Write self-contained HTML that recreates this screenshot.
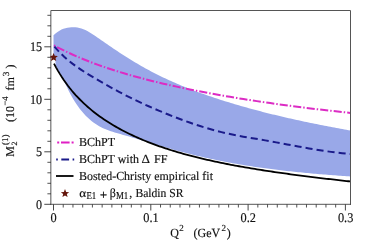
<!DOCTYPE html>
<html><head><meta charset="utf-8"><style>
html,body{margin:0;padding:0;background:#fff;}
body{width:367px;height:245px;overflow:hidden;position:relative;font-family:"Liberation Serif",serif;color:#111;}
svg{position:absolute;left:0;top:0;}
</style></head><body>
<svg width="367" height="245" viewBox="0 0 367 245">
<path d="M53.50,35.28 L55.49,33.45 L57.49,31.91 L59.48,30.63 L61.47,29.59 L63.46,28.77 L65.46,28.14 L67.45,27.68 L69.44,27.38 L71.43,27.22 L73.43,27.19 L75.42,27.31 L77.41,27.57 L79.40,27.97 L81.40,28.53 L83.39,29.24 L85.38,30.10 L87.37,31.09 L89.37,32.20 L91.36,33.40 L93.35,34.68 L95.34,36.02 L97.34,37.40 L99.33,38.80 L101.32,40.20 L103.32,41.60 L105.31,42.98 L107.30,44.36 L109.29,45.72 L111.29,47.08 L113.28,48.43 L115.27,49.76 L117.26,51.09 L119.26,52.40 L121.25,53.70 L123.24,54.98 L125.23,56.26 L127.23,57.52 L129.22,58.76 L131.21,59.99 L133.20,61.21 L135.20,62.41 L137.19,63.59 L139.18,64.75 L141.18,65.90 L143.17,67.03 L145.16,68.15 L147.15,69.24 L149.15,70.32 L151.14,71.38 L153.13,72.42 L155.12,73.45 L157.12,74.46 L159.11,75.45 L161.10,76.43 L163.09,77.39 L165.09,78.34 L167.08,79.27 L169.07,80.19 L171.06,81.09 L173.06,81.98 L175.05,82.86 L177.04,83.72 L179.03,84.57 L181.03,85.41 L183.02,86.23 L185.01,87.04 L187.01,87.84 L189.00,88.63 L190.99,89.41 L192.98,90.17 L194.98,90.93 L196.97,91.67 L198.96,92.41 L200.95,93.13 L202.95,93.84 L204.94,94.55 L206.93,95.24 L208.92,95.93 L210.92,96.61 L212.91,97.28 L214.90,97.94 L216.89,98.59 L218.89,99.24 L220.88,99.88 L222.87,100.51 L224.87,101.14 L226.86,101.76 L228.85,102.37 L230.84,102.98 L232.84,103.58 L234.83,104.18 L236.82,104.77 L238.81,105.35 L240.81,105.92 L242.80,106.50 L244.79,107.06 L246.78,107.62 L248.78,108.17 L250.77,108.72 L252.76,109.26 L254.75,109.80 L256.75,110.33 L258.74,110.85 L260.73,111.37 L262.72,111.89 L264.72,112.40 L266.71,112.90 L268.70,113.40 L270.70,113.90 L272.69,114.39 L274.68,114.87 L276.67,115.36 L278.67,115.83 L280.66,116.30 L282.65,116.77 L284.64,117.23 L286.64,117.69 L288.63,118.15 L290.62,118.60 L292.61,119.04 L294.61,119.48 L296.60,119.92 L298.59,120.35 L300.58,120.78 L302.58,121.21 L304.57,121.63 L306.56,122.05 L308.56,122.47 L310.55,122.88 L312.54,123.29 L314.53,123.69 L316.53,124.10 L318.52,124.49 L320.51,124.89 L322.50,125.28 L324.50,125.67 L326.49,126.06 L328.48,126.44 L330.47,126.83 L332.47,127.20 L334.46,127.58 L336.45,127.95 L338.44,128.33 L340.44,128.69 L342.43,129.06 L344.42,129.43 L346.41,129.79 L348.41,130.15 L350.40,130.51 L350.40,176.44 L348.47,176.31 L346.54,176.18 L344.60,176.05 L342.67,175.92 L340.74,175.78 L338.81,175.64 L336.87,175.50 L334.94,175.36 L333.01,175.21 L331.08,175.07 L329.15,174.92 L327.21,174.77 L325.28,174.61 L323.35,174.46 L321.42,174.30 L319.48,174.14 L317.55,173.97 L315.62,173.81 L313.69,173.64 L311.76,173.47 L309.82,173.29 L307.89,173.12 L305.96,172.93 L304.03,172.75 L302.09,172.56 L300.16,172.37 L298.23,172.18 L296.30,171.98 L294.37,171.78 L292.43,171.58 L290.50,171.37 L288.57,171.16 L286.64,170.95 L284.70,170.73 L282.77,170.51 L280.84,170.28 L278.91,170.05 L276.98,169.82 L275.04,169.58 L273.11,169.33 L271.18,169.09 L269.25,168.84 L267.31,168.58 L265.38,168.32 L263.45,168.06 L261.52,167.79 L259.59,167.51 L257.65,167.23 L255.72,166.95 L253.79,166.66 L251.86,166.37 L249.92,166.07 L247.99,165.77 L246.06,165.46 L244.13,165.15 L242.20,164.83 L240.26,164.50 L238.33,164.17 L236.40,163.84 L234.47,163.50 L232.53,163.15 L230.60,162.80 L228.67,162.44 L226.74,162.08 L224.81,161.71 L222.87,161.33 L220.94,160.95 L219.01,160.56 L217.08,160.17 L215.14,159.77 L213.21,159.36 L211.28,158.95 L209.35,158.53 L207.42,158.10 L205.48,157.67 L203.55,157.23 L201.62,156.79 L199.69,156.34 L197.76,155.88 L195.82,155.41 L193.89,154.94 L191.96,154.47 L190.03,153.98 L188.09,153.50 L186.16,153.00 L184.23,152.50 L182.30,152.00 L180.37,151.49 L178.43,150.97 L176.50,150.45 L174.57,149.93 L172.64,149.40 L170.70,148.86 L168.77,148.32 L166.84,147.78 L164.91,147.23 L162.98,146.68 L161.04,146.12 L159.11,145.56 L157.18,145.00 L155.25,144.43 L153.31,143.86 L151.38,143.28 L149.45,142.70 L147.52,142.12 L145.59,141.53 L143.65,140.95 L141.72,140.36 L139.79,139.78 L137.86,139.19 L135.92,138.61 L133.99,138.03 L132.06,137.45 L130.13,136.87 L128.20,136.30 L126.26,135.74 L124.33,135.18 L122.40,134.63 L120.47,134.08 L118.53,133.54 L116.60,132.99 L114.67,132.42 L112.74,131.83 L110.81,131.20 L108.87,130.53 L106.94,129.81 L105.01,129.02 L103.08,128.16 L101.14,127.22 L99.21,126.20 L97.28,125.07 L95.35,123.83 L93.42,122.47 L91.48,120.99 L89.55,119.37 L87.62,117.61 L85.69,115.69 L83.75,113.61 L81.82,111.36 L79.89,108.92 L77.96,106.29 L76.03,103.46 L74.09,100.44 L72.16,97.21 L70.23,93.73 L68.30,89.91 L66.36,85.69 L64.43,81.96 L62.50,79.06 L62.00,77.64 L61.43,76.76 L60.86,75.87 L60.29,74.96 L59.71,74.04 L59.14,73.10 L58.57,72.15 L58.00,71.18 L57.00,68.60 L55.70,65.30 L55.30,59.50 L53.50,56.00 Z" fill="#99a8e8"/>
<g style="filter:blur(0.4px)"><path d="M53.92,45.40 L54.56,45.74 L55.20,46.08 M57.00,47.03 L60.62,48.89 L64.24,50.68 M66.04,51.55 L66.69,51.86 L67.35,52.17 M69.20,53.03 L72.89,54.72 L76.59,56.34 M78.43,57.13 L79.10,57.42 L79.76,57.70 M81.65,58.48 L85.41,60.01 L89.17,61.49 M91.03,62.21 L91.71,62.47 L92.39,62.73 M94.30,63.44 L98.11,64.84 L101.92,66.19 M103.81,66.84 L104.49,67.08 L105.18,67.31 M107.11,67.97 L110.96,69.24 L114.81,70.48 M116.72,71.08 L117.41,71.30 L118.10,71.51 M120.05,72.11 L123.93,73.29 L127.82,74.43 M129.74,74.98 L130.44,75.18 L131.13,75.38 M133.10,75.93 L137.00,77.01 L140.91,78.06 M142.84,78.58 L143.54,78.76 L144.25,78.94 M146.22,79.46 L150.15,80.46 L154.08,81.43 M156.02,81.91 L156.72,82.08 L157.43,82.25 M159.41,82.73 L163.36,83.66 L167.30,84.57 M169.25,85.01 L169.96,85.17 L170.66,85.33 M172.65,85.77 L176.61,86.64 L180.57,87.49 M182.53,87.91 L183.24,88.06 L183.95,88.21 M185.94,88.62 L189.91,89.43 L193.88,90.23 M195.84,90.62 L196.55,90.76 L197.27,90.90 M199.27,91.29 L203.25,92.06 L207.23,92.81 M209.19,93.17 L209.90,93.30 L210.62,93.43 M212.62,93.80 L216.61,94.52 L220.60,95.23 M222.57,95.57 L223.28,95.70 L224.00,95.82 M226.01,96.17 L230.00,96.85 L233.99,97.52 M235.97,97.84 L236.68,97.96 L237.40,98.08 M239.41,98.40 L243.41,99.05 L247.41,99.68 M249.39,99.98 L250.10,100.10 L250.82,100.21 M252.84,100.52 L256.84,101.12 L260.85,101.72 M262.82,102.01 L263.54,102.12 L264.26,102.22 M266.28,102.52 L270.29,103.09 L274.30,103.66 M276.28,103.94 L277.00,104.04 L277.71,104.14 M279.73,104.42 L283.75,104.96 L287.76,105.50 M289.74,105.76 L290.46,105.86 L291.18,105.95 M293.20,106.22 L297.22,106.74 L301.24,107.25 M303.22,107.50 L303.94,107.59 L304.66,107.68 M306.69,107.93 L310.71,108.42 L314.73,108.91 M316.71,109.15 L317.43,109.23 L318.15,109.32 M320.18,109.56 L324.20,110.03 L328.22,110.49 M330.21,110.71 L330.93,110.80 L331.65,110.88 M333.68,111.10 L337.71,111.55 L341.73,111.99 M343.72,112.21 L344.44,112.28 L345.16,112.36 M347.19,112.58 L348.80,112.75 L350.40,112.92" fill="none" stroke="#dc2cc4" stroke-width="2.0" />
<path d="M54.41,46.54 L56.67,49.13 L58.93,51.58 M61.67,54.35 L64.18,56.73 L66.69,58.97 M69.70,61.49 L72.43,63.63 L75.16,65.66 M78.39,67.93 L81.28,69.87 L84.16,71.74 M87.52,73.85 L90.49,75.67 L93.45,77.45 M96.88,79.46 L99.89,81.20 L102.90,82.93 M106.37,84.89 L109.40,86.59 L112.44,88.27 M115.94,90.18 L119.02,91.83 L122.09,93.45 M125.64,95.29 L128.75,96.87 L131.87,98.41 M135.47,100.16 L138.63,101.66 L141.79,103.13 M145.44,104.79 L148.64,106.22 L151.84,107.63 M155.52,109.22 L158.74,110.60 L161.97,111.95 M165.69,113.48 L168.94,114.79 L172.19,116.09 M175.94,117.54 L179.23,118.79 L182.52,120.02 M186.30,121.39 L189.62,122.56 L192.94,123.71 M196.77,124.98 L200.12,126.07 L203.48,127.11 M207.35,128.28 L210.74,129.26 L214.13,130.21 M218.04,131.25 L221.47,132.11 L224.90,132.94 M228.85,133.83 L232.31,134.57 L235.78,135.26 M239.76,136.02 L243.25,136.65 L246.73,137.25 M250.74,137.93 L254.23,138.52 L257.72,139.10 M261.73,139.78 L265.21,140.38 L268.70,141.00 M272.69,141.73 L276.17,142.36 L279.65,143.01 M283.64,143.75 L287.12,144.41 L290.60,145.06 M294.59,145.80 L298.07,146.44 L301.55,147.08 M305.55,147.80 L309.03,148.41 L312.52,149.01 M316.53,149.68 L320.03,150.25 L323.52,150.79 M327.54,151.38 L331.05,151.88 L334.57,152.34 M338.60,152.84 L342.13,153.23 L345.65,153.60 M349.70,153.97 L350.05,153.99 L350.40,154.02" fill="none" stroke="#1a1a8a" stroke-width="2.0" />
<path d="M54.00,63.64 L55.99,67.34 L57.98,70.84 L59.97,74.15 L61.96,77.28 L63.95,80.24 L65.94,83.06 L67.92,85.74 L69.91,88.30 L71.90,90.74 L73.89,93.07 L75.88,95.31 L77.87,97.45 L79.86,99.50 L81.85,101.48 L83.84,103.38 L85.83,105.21 L87.82,106.98 L89.81,108.69 L91.80,110.33 L93.79,111.93 L95.77,113.47 L97.76,114.97 L99.75,116.42 L101.74,117.82 L103.73,119.19 L105.72,120.52 L107.71,121.81 L109.70,123.06 L111.69,124.28 L113.68,125.47 L115.67,126.63 L117.66,127.76 L119.65,128.86 L121.63,129.93 L123.62,130.98 L125.61,132.00 L127.60,133.00 L129.59,133.98 L131.58,134.93 L133.57,135.86 L135.56,136.77 L137.55,137.66 L139.54,138.53 L141.53,139.38 L143.52,140.21 L145.51,141.03 L147.50,141.83 L149.48,142.61 L151.47,143.37 L153.46,144.12 L155.45,144.86 L157.44,145.58 L159.43,146.28 L161.42,146.97 L163.41,147.65 L165.40,148.32 L167.39,148.97 L169.38,149.61 L171.37,150.24 L173.36,150.85 L175.34,151.45 L177.33,152.05 L179.32,152.63 L181.31,153.20 L183.30,153.76 L185.29,154.31 L187.28,154.86 L189.27,155.39 L191.26,155.91 L193.25,156.43 L195.24,156.93 L197.23,157.43 L199.22,157.92 L201.21,158.40 L203.19,158.87 L205.18,159.33 L207.17,159.79 L209.16,160.24 L211.15,160.69 L213.14,161.12 L215.13,161.55 L217.12,161.97 L219.11,162.39 L221.10,162.80 L223.09,163.21 L225.08,163.61 L227.07,164.00 L229.06,164.39 L231.04,164.77 L233.03,165.14 L235.02,165.52 L237.01,165.88 L239.00,166.24 L240.99,166.60 L242.98,166.95 L244.97,167.30 L246.96,167.64 L248.95,167.98 L250.94,168.32 L252.93,168.65 L254.92,168.97 L256.90,169.30 L258.89,169.61 L260.88,169.93 L262.87,170.24 L264.86,170.55 L266.85,170.85 L268.84,171.15 L270.83,171.45 L272.82,171.75 L274.81,172.04 L276.80,172.33 L278.79,172.61 L280.78,172.90 L282.77,173.18 L284.75,173.45 L286.74,173.73 L288.73,174.00 L290.72,174.27 L292.71,174.54 L294.70,174.80 L296.69,175.07 L298.68,175.33 L300.67,175.59 L302.66,175.84 L304.65,176.10 L306.64,176.35 L308.63,176.60 L310.61,176.85 L312.60,177.09 L314.59,177.34 L316.58,177.58 L318.57,177.82 L320.56,178.06 L322.55,178.30 L324.54,178.53 L326.53,178.77 L328.52,179.00 L330.51,179.23 L332.50,179.46 L334.49,179.69 L336.48,179.91 L338.46,180.14 L340.45,180.36 L342.44,180.59 L344.43,180.81 L346.42,181.03 L348.41,181.25 L350.40,181.47" fill="none" stroke="#000" stroke-width="1.8"/></g>
<path d="M50.85,204.8 V10.5 H350.5 V204.8" fill="none" stroke="#555" stroke-width="1"/><path d="M50.5,204.3 H351" fill="none" stroke="#444" stroke-width="0.9"/>
<g stroke="#333"><line x1="44.30" y1="204.30" x2="51" y2="204.30" stroke-width="0.9"/><line x1="47.40" y1="193.80" x2="51" y2="193.80" stroke-width="0.85"/><line x1="47.40" y1="183.30" x2="51" y2="183.30" stroke-width="0.85"/><line x1="47.40" y1="172.80" x2="51" y2="172.80" stroke-width="0.85"/><line x1="47.40" y1="162.30" x2="51" y2="162.30" stroke-width="0.85"/><line x1="44.30" y1="151.80" x2="51" y2="151.80" stroke-width="0.9"/><line x1="47.40" y1="141.30" x2="51" y2="141.30" stroke-width="0.85"/><line x1="47.40" y1="130.80" x2="51" y2="130.80" stroke-width="0.85"/><line x1="47.40" y1="120.30" x2="51" y2="120.30" stroke-width="0.85"/><line x1="47.40" y1="109.80" x2="51" y2="109.80" stroke-width="0.85"/><line x1="44.30" y1="99.30" x2="51" y2="99.30" stroke-width="0.9"/><line x1="47.40" y1="88.80" x2="51" y2="88.80" stroke-width="0.85"/><line x1="47.40" y1="78.30" x2="51" y2="78.30" stroke-width="0.85"/><line x1="47.40" y1="67.80" x2="51" y2="67.80" stroke-width="0.85"/><line x1="47.40" y1="57.30" x2="51" y2="57.30" stroke-width="0.85"/><line x1="44.30" y1="46.80" x2="51" y2="46.80" stroke-width="0.9"/><line x1="47.40" y1="36.30" x2="51" y2="36.30" stroke-width="0.85"/><line x1="47.40" y1="25.80" x2="51" y2="25.80" stroke-width="0.85"/><line x1="47.40" y1="15.30" x2="51" y2="15.30" stroke-width="0.85"/><line x1="53.50" y1="204.3" x2="53.50" y2="210.50" stroke-width="0.9"/><line x1="63.23" y1="204.3" x2="63.23" y2="207.50" stroke-width="0.85"/><line x1="72.96" y1="204.3" x2="72.96" y2="207.50" stroke-width="0.85"/><line x1="82.69" y1="204.3" x2="82.69" y2="207.50" stroke-width="0.85"/><line x1="92.42" y1="204.3" x2="92.42" y2="207.50" stroke-width="0.85"/><line x1="102.15" y1="204.3" x2="102.15" y2="207.50" stroke-width="0.85"/><line x1="111.88" y1="204.3" x2="111.88" y2="207.50" stroke-width="0.85"/><line x1="121.61" y1="204.3" x2="121.61" y2="207.50" stroke-width="0.85"/><line x1="131.34" y1="204.3" x2="131.34" y2="207.50" stroke-width="0.85"/><line x1="141.07" y1="204.3" x2="141.07" y2="207.50" stroke-width="0.85"/><line x1="150.80" y1="204.3" x2="150.80" y2="210.50" stroke-width="0.9"/><line x1="160.53" y1="204.3" x2="160.53" y2="207.50" stroke-width="0.85"/><line x1="170.26" y1="204.3" x2="170.26" y2="207.50" stroke-width="0.85"/><line x1="179.99" y1="204.3" x2="179.99" y2="207.50" stroke-width="0.85"/><line x1="189.72" y1="204.3" x2="189.72" y2="207.50" stroke-width="0.85"/><line x1="199.45" y1="204.3" x2="199.45" y2="207.50" stroke-width="0.85"/><line x1="209.18" y1="204.3" x2="209.18" y2="207.50" stroke-width="0.85"/><line x1="218.91" y1="204.3" x2="218.91" y2="207.50" stroke-width="0.85"/><line x1="228.64" y1="204.3" x2="228.64" y2="207.50" stroke-width="0.85"/><line x1="238.37" y1="204.3" x2="238.37" y2="207.50" stroke-width="0.85"/><line x1="248.10" y1="204.3" x2="248.10" y2="210.50" stroke-width="0.9"/><line x1="257.83" y1="204.3" x2="257.83" y2="207.50" stroke-width="0.85"/><line x1="267.56" y1="204.3" x2="267.56" y2="207.50" stroke-width="0.85"/><line x1="277.29" y1="204.3" x2="277.29" y2="207.50" stroke-width="0.85"/><line x1="287.02" y1="204.3" x2="287.02" y2="207.50" stroke-width="0.85"/><line x1="296.75" y1="204.3" x2="296.75" y2="207.50" stroke-width="0.85"/><line x1="306.48" y1="204.3" x2="306.48" y2="207.50" stroke-width="0.85"/><line x1="316.21" y1="204.3" x2="316.21" y2="207.50" stroke-width="0.85"/><line x1="325.94" y1="204.3" x2="325.94" y2="207.50" stroke-width="0.85"/><line x1="335.67" y1="204.3" x2="335.67" y2="207.50" stroke-width="0.85"/><line x1="345.40" y1="204.3" x2="345.40" y2="210.50" stroke-width="0.9"/></g>
<!-- star -->
<clipPath id="cp"><rect x="50.4" y="10" width="301" height="195"/></clipPath>
<polygon points="53.60,52.90 54.78,55.78 57.88,56.01 55.50,58.02 56.25,61.04 53.60,59.40 50.95,61.04 51.70,58.02 49.32,56.01 52.42,55.78" fill="#64160c" clip-path="url(#cp)"/>
<polygon points="65.00,189.10 66.12,191.96 69.18,192.14 66.81,194.09 67.59,197.06 65.00,195.40 62.41,197.06 63.19,194.09 60.82,192.14 63.88,191.96" fill="#64160c"/>
<!-- legend -->
<path d="M57.2,142.5h2 M61,142.5h8.6 M71.6,142.5h2" stroke="#e01fc4" stroke-width="2" fill="none"/>
<path d="M56.2,159.5h1.6 M61.3,159.5h7.8 M72.6,159.5h1.6" stroke="#1a1a8a" stroke-width="2" fill="none"/>
<path d="M56,176h17.5" stroke="#000" stroke-width="1.8" fill="none"/>
</svg>
<svg width="367" height="245" viewBox="0 0 367 245" style="will-change:transform" font-family="Liberation Serif" fill="#111" stroke="#111" stroke-width="0.15" text-rendering="geometricPrecision">
<text transform="translate(42.00,51.20) scale(1.000,1.100)" font-size="12.10" text-anchor="end">15</text>
<text transform="translate(42.00,103.70) scale(1.000,1.100)" font-size="12.10" text-anchor="end">10</text>
<text transform="translate(42.00,156.20) scale(1.000,1.100)" font-size="12.10" text-anchor="end">5</text>
<text transform="translate(42.00,208.70) scale(1.000,1.100)" font-size="12.10" text-anchor="end">0</text>
<text transform="translate(53.70,222.00) scale(1.020,1.100)" font-size="12.10" text-anchor="middle">0</text>
<text transform="translate(151.00,222.00) scale(1.020,1.100)" font-size="12.10" text-anchor="middle">0.1</text>
<text transform="translate(248.30,222.00) scale(1.020,1.100)" font-size="12.10" text-anchor="middle">0.2</text>
<text transform="translate(345.60,222.00) scale(1.020,1.100)" font-size="12.10" text-anchor="middle">0.3</text>
<text transform="translate(79.00,146.30) scale(1.020,1.040)" font-size="11.80" text-anchor="start">BChPT</text>
<text transform="translate(79.00,163.20) scale(1.015,1.040)" font-size="11.80" text-anchor="start">BChPT with</text>
<text transform="translate(141.60,163.20) scale(1.120,1.040)" font-size="11.80" text-anchor="start">&#916;</text>
<text transform="translate(153.90,163.20) scale(1.030,1.040)" font-size="11.80" text-anchor="start">FF</text>
<text transform="translate(79.00,180.20) scale(1.012,1.040)" font-size="11.80" text-anchor="start">Bosted-Christy empirical fit</text>
<text transform="translate(79.20,197.20) scale(1.100,1.000)" font-size="12.00" text-anchor="start">&#945;</text>
<text transform="translate(86.40,199.40) scale(1.000,1.200)" font-size="8.80" text-anchor="start">E1</text>
<text transform="translate(99.90,198.70) scale(1.050,1.050)" font-size="12.00" text-anchor="start">+</text><path d="M100.3,194.75h6.3M103.45,191.6v6.3" stroke="#111" stroke-width="0.5" fill="none"/>
<text transform="translate(109.80,197.20) scale(1.000,1.040)" font-size="12.00" text-anchor="start">&#946;</text>
<text transform="translate(116.00,199.40) scale(1.000,1.200)" font-size="8.80" text-anchor="start">M1</text>
<text transform="translate(129.30,197.20) scale(1.000,1.040)" font-size="12.00" text-anchor="start">,</text>
<text transform="translate(135.40,197.20) scale(0.985,1.040)" font-size="11.80" text-anchor="start">Baldin SR</text>
<text transform="translate(170.20,237.30) scale(1.000,1.040)" font-size="12.00" text-anchor="start">Q</text>
<text transform="translate(179.30,231.20) scale(1.000,1.040)" font-size="9.00" text-anchor="start">2</text>
<text transform="translate(193.50,237.30) scale(1.000,1.040)" font-size="12.00" text-anchor="start">(GeV</text>
<text transform="translate(221.60,231.20) scale(1.000,1.040)" font-size="9.00" text-anchor="start">2</text>
<text transform="translate(226.80,237.30) scale(1.000,1.040)" font-size="12.00" text-anchor="start">)</text>
<g transform="translate(14.2,156.8) rotate(-90)">
<text x="0" y="0" font-size="12">M</text>
<text x="11.8" y="-6.3" font-size="9">(1)</text>
<text x="11.2" y="3" font-size="8">2</text>
<text x="34.9" y="0" font-size="12">(10</text>
<text x="51.2" y="-6.1" font-size="8.8">&#8722;4</text>
<text x="66.4" y="0" font-size="12">fm</text>
<text x="80.5" y="-5.6" font-size="9.3">3</text>
<text x="88.4" y="0" font-size="12">)</text>
</g></svg>
</body></html>
